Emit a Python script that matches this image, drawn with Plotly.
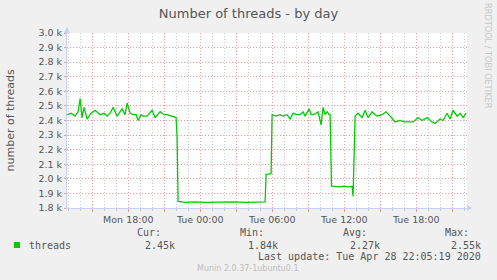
import plotly.graph_objects as go

# ---------------- data ----------------
mon_times = ["12:54", "13:14", "13:34", "13:49", "13:59", "14:09", "14:19", "14:34", "14:54", "15:14",
             "15:39", "15:59", "16:14", "16:29", "16:44", "17:04", "17:29", "17:44", "17:54", "18:09",
             "18:24", "18:39", "18:49", "19:04", "19:14", "19:34", "19:59", "20:14", "20:39", "20:59",
             "21:14", "21:39", "21:59", "22:04", "22:09", "22:44", "23:34"]
mon_values = [2440, 2450, 2430, 2460, 2550, 2420, 2490, 2410, 2450, 2470,
              2440, 2450, 2430, 2450, 2490, 2430, 2480, 2440, 2520, 2450,
              2440, 2440, 2400, 2440, 2430, 2430, 2470, 2420, 2460, 2440,
              2440, 2430, 2420, 2280, 1845, 1838, 1842]
tue_times = ["00:24", "01:14", "02:04", "02:54", "03:44", "04:34", "05:24", "05:29", "05:54", "05:59",
             "06:19", "06:39", "06:54", "07:14", "07:29", "07:44", "08:04", "08:19", "08:34", "08:44",
             "09:04", "09:14", "09:24", "09:39", "09:49", "10:04", "10:14", "10:24", "10:34", "10:44",
             "10:49", "10:56", "11:14", "11:39", "11:59", "12:19", "12:39", "12:44", "12:54", "13:09",
             "13:29", "13:44", "13:59", "14:19", "14:34", "14:44", "15:09", "15:29", "15:49", "16:14",
             "16:39", "16:59", "17:14", "17:44", "18:09", "18:29", "18:54", "19:19", "19:34", "19:59",
             "20:14", "20:34", "20:49", "21:04", "21:24", "21:39", "21:54", "22:09"]
tue_values = [1838, 1841, 1839, 1842, 1838, 1841, 1842, 2030, 2035, 2440,
              2430, 2440, 2430, 2440, 2410, 2450, 2440, 2440, 2460, 2430,
              2480, 2440, 2440, 2450, 2460, 2370, 2490, 2440, 2460, 2440,
              2440, 1950, 1948, 1945, 1950, 1945, 1948, 1880, 2430, 2450,
              2420, 2470, 2420, 2460, 2440, 2430, 2440, 2460, 2430, 2390,
              2400, 2390, 2390, 2390, 2420, 2400, 2420, 2390, 2380, 2410,
              2400, 2450, 2410, 2470, 2430, 2450, 2420, 2450]

times = ["2020-04-27 " + t for t in mon_times] + ["2020-04-28 " + t for t in tue_times]
values = mon_values + tue_values

x_range = ["2020-04-27 12:53:30", "2020-04-28 22:13:30"]
x_tickvals = ["2020-04-27 15:00", "2020-04-27 18:00", "2020-04-27 21:00", "2020-04-28 00:00",
              "2020-04-28 03:00", "2020-04-28 06:00", "2020-04-28 09:00", "2020-04-28 12:00",
              "2020-04-28 15:00", "2020-04-28 18:00", "2020-04-28 21:00"]
x_ticktext = ["", "Mon 18:00", "", "Tue 00:00", "", "Tue 06:00", "", "Tue 12:00", "", "Tue 18:00", ""]
y_tickvals = [1800, 1900, 2000, 2100, 2200, 2300, 2400, 2500, 2600, 2700, 2800, 2900, 3000]
y_ticktext = ["1.8 k", "1.9 k", "2.0 k", "2.1 k", "2.2 k", "2.3 k", "2.4 k", "2.5 k",
              "2.6 k", "2.7 k", "2.8 k", "2.9 k", "3.0 k"]

series_name = "threads"
stat_labels = ["Cur:", "Min:", "Avg:", "Max:"]
stat_values = ["2.45k", "1.84k", "2.27k", "2.55k"]
title_text = "Number of threads - by day"
y_title = "number of threads"
last_update = "Last update: Tue Apr 28 22:05:19 2020"
version_text = "Munin 2.0.37-1ubuntu0.1"
side_text = "RRDTOOL / TOBI OETIKER"

# ---------------- layout geometry ----------------
W, H = 497, 280
L, T, PW, PH = 67, 33, 400, 175


def px(xp):
    return (xp - L) / PW


def py(yp):
    return (T + PH - yp) / PH


GREEN = "#00cc00"
TEXT = "#555555"
RED_GRID = "#f09a9a"
GRAY_GRID = "#c8c8c8"
AXIS = "#c9cff5"
SANS = "DejaVu Sans"
MONO = "DejaVu Sans Mono"
DASH = "1px,2px"

fig = go.Figure()
fig.add_trace(go.Scatter(x=times, y=values, mode="lines",
                         line=dict(color=GREEN, width=1.3), hoverinfo="skip", showlegend=False))

fig.update_layout(
    width=W, height=H,
    margin=dict(l=L, r=W - L - PW, t=T, b=H - T - PH, pad=0),
    paper_bgcolor="#f0f0f0", plot_bgcolor="#ffffff",
    showlegend=False,
    title=dict(text=title_text, x=0.5, xref="container", xanchor="center",
               y=1 - 13 / H, yref="container", yanchor="middle",
               font=dict(family=SANS, size=13, color=TEXT)),
)

fig.update_xaxes(
    type="date", range=x_range,
    tickmode="array", tickvals=x_tickvals, ticktext=x_ticktext,
    showgrid=True, gridcolor=RED_GRID, griddash=DASH, gridwidth=1,
    ticks="outside", ticklen=3, tickcolor=RED_GRID, tickwidth=1,
    tickfont=dict(family=SANS, size=9.5, color=TEXT),
    showline=True, linecolor=AXIS, linewidth=1,
    zeroline=False,
    minor=dict(dtick=3600000, tick0="2020-04-27 00:00", showgrid=True, gridcolor=GRAY_GRID,
               griddash=DASH, gridwidth=1, ticks="outside", ticklen=2, tickcolor=GRAY_GRID),
)
fig.update_yaxes(
    range=[1800, 3000],
    tickmode="array", tickvals=y_tickvals, ticktext=y_ticktext,
    showgrid=True, gridcolor=RED_GRID, griddash=DASH, gridwidth=1,
    ticks="outside", ticklen=2, tickcolor=RED_GRID,
    tickfont=dict(family=SANS, size=9.5, color=TEXT),
    showline=True, linecolor=AXIS, linewidth=1,
    zeroline=False,
)

# axis arrows
fig.add_shape(type="path", xref="x domain", yref="y domain",
              xsizemode="pixel", ysizemode="pixel", xanchor=0, yanchor=1,
              path="M -3,0 L 3,0 L 0,6 Z", fillcolor=AXIS, line=dict(width=0))
fig.add_shape(type="path", xref="x domain", yref="y domain",
              xsizemode="pixel", ysizemode="pixel", xanchor=1, yanchor=0,
              path="M 0,-3 L 0,3 L 5,0 Z", fillcolor=AXIS, line=dict(width=0))
fig.add_shape(type="line", xref="x domain", yref="y domain",
              xsizemode="pixel", ysizemode="pixel", xanchor=0, yanchor=1,
              x0=0, x1=0, y0=0, y1=5, line=dict(color=AXIS, width=1))
fig.add_shape(type="line", xref="x domain", yref="y domain",
              xsizemode="pixel", ysizemode="pixel", xanchor=1, yanchor=0,
              x0=0, x1=3, y0=0, y1=0, line=dict(color=AXIS, width=1))

# legend square
fig.add_shape(type="rect", xref="paper", yref="paper",
              x0=px(14), x1=px(20), y0=py(242), y1=py(248),
              fillcolor=GREEN, line=dict(width=0))


def ann(text, xp, yp, xanchor="left", font=None, **kw):
    fig.add_annotation(text=text, x=px(xp), y=py(yp), xref="paper", yref="paper",
                       xanchor=xanchor, yanchor="middle", showarrow=False,
                       font=font or dict(family=MONO, size=10, color=TEXT), **kw)


ann(y_title, 10, 120.5, xanchor="center", textangle=-90,
    font=dict(family=SANS, size=11, color=TEXT))
ann(side_text, 488, 56, xanchor="center", textangle=90,
    font=dict(family=SANS, size=8.2, color="#c8c8c8"))
ann(series_name, 26.5, 245)

label_right = [163, 266, 368.5, 471]
value_right = [176.5, 279.5, 381.5, 483]
for lab, val, lr, vr in zip(stat_labels, stat_values, label_right, value_right):
    ann(lab, lr, 232.5, xanchor="right")
    ann(val, vr, 245, xanchor="right")
ann(last_update, 483, 256.8, xanchor="right")
ann(version_text, 248, 268.5, xanchor="center",
    font=dict(family=SANS, size=8, color="#bdbdbd"))

fig.write_html("out.html", config={"displayModeBar": False})
